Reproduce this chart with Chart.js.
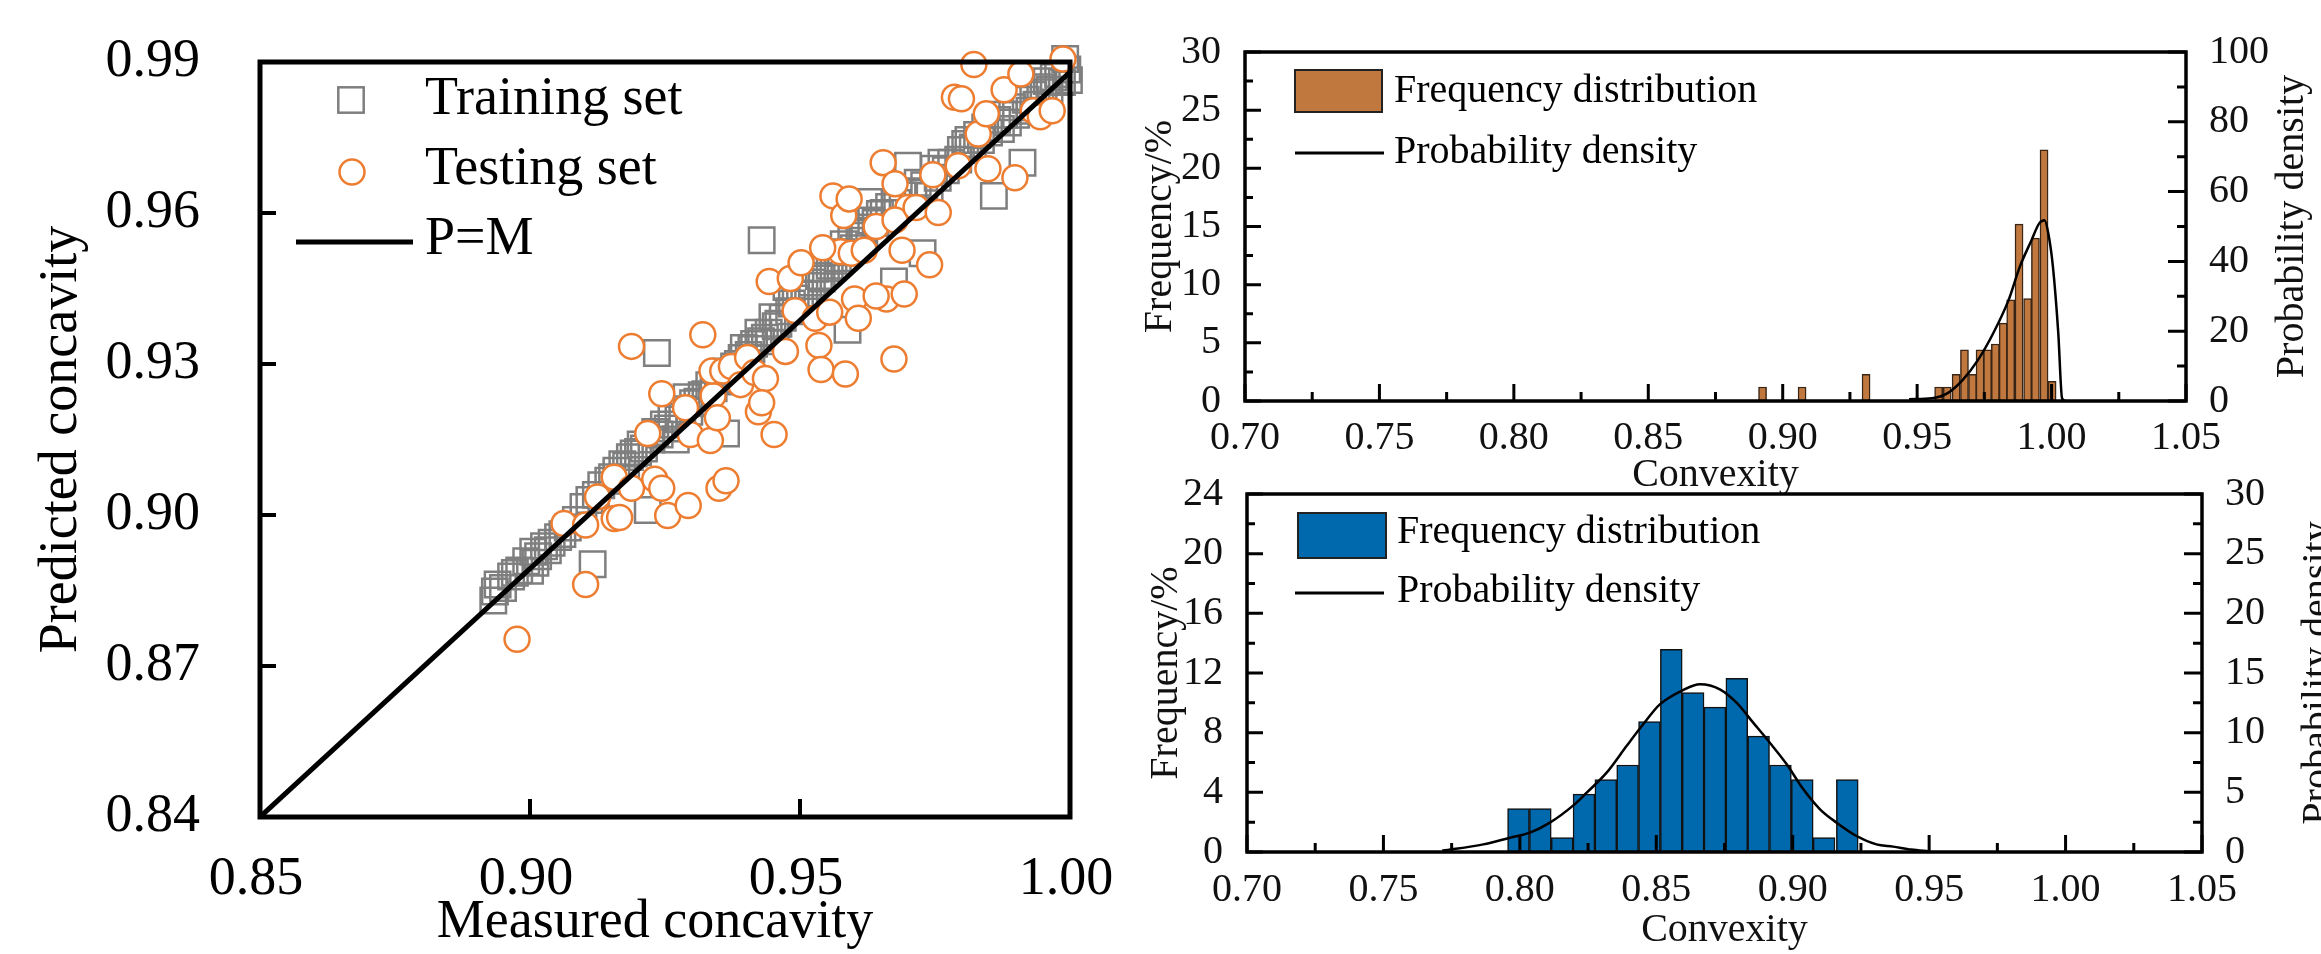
<!DOCTYPE html>
<html>
<head>
<meta charset="utf-8">
<script src="https://cdn.jsdelivr.net/npm/chart.js@4.4.0/dist/chart.umd.min.js"></script>
<style>
  html, body { margin: 0; padding: 0; background: #fff; }
  body { width: 2321px; height: 954px; position: relative; overflow: hidden; }
  canvas { position: absolute; }
  #scatter { left: 0; top: 0; }
  #histTop { left: 1120px; top: 0; }
  #histBottom { left: 1120px; top: 460px; }
</style>
</head>
<body>
<canvas id="scatter" width="1120" height="954"></canvas>
<canvas id="histTop" width="1201" height="500"></canvas>
<canvas id="histBottom" width="1201" height="494"></canvas>
<script>
const SERIF = "'Liberation Serif', 'Times New Roman', serif";

// ---- left panel: measured vs predicted concavity
const trainMeasured = [0.8932, 0.8935, 0.8940, 0.8965, 0.8980, 0.8993, 0.9000, 0.9006, 0.9015, 0.9026,
  0.9040, 0.9052, 0.9070, 0.9099, 0.9116, 0.9110, 0.9132, 0.9145, 0.9160, 0.9171,
  0.9185, 0.9200, 0.9211, 0.9218, 0.9225, 0.9235, 0.9240, 0.9255, 0.9270, 0.9275,
  0.9290, 0.9295, 0.9310, 0.9325, 0.9340, 0.9355, 0.9363, 0.9370, 0.9385, 0.9396,
  0.9405, 0.9415, 0.9423, 0.9429, 0.9435, 0.9449, 0.9460, 0.9475, 0.9485, 0.9500,
  0.9515, 0.9528, 0.9540, 0.9555, 0.9570, 0.9581, 0.9588, 0.9600, 0.9610, 0.9619,
  0.9628, 0.9640, 0.9655, 0.9674, 0.9680, 0.9700, 0.9710, 0.9727, 0.9730, 0.9740,
  0.9755, 0.9770, 0.9780, 0.9793, 0.9806, 0.9820, 0.9835, 0.9850, 0.9859, 0.9872,
  0.9885, 0.9900, 0.9912, 0.9925, 0.9938, 0.9951, 0.9962, 0.9978, 0.9985, 0.9991, 0.9998,
  0.8950, 0.8972, 0.9010, 0.9033, 0.9060, 0.9085, 0.9122, 0.9152, 0.9178, 0.9192,
  0.9205, 0.9232, 0.9248, 0.9262, 0.9282, 0.9302, 0.9318, 0.9332, 0.9348, 0.9362,
  0.9378, 0.9392, 0.9410, 0.9428, 0.9442, 0.9455, 0.9468, 0.9480, 0.9492, 0.9508,
  0.9522, 0.9535, 0.9548, 0.9562, 0.9576, 0.9595, 0.9615, 0.9632, 0.9648, 0.9665,
  0.9690, 0.9718, 0.9748, 0.9762, 0.9798, 0.9812, 0.9828, 0.9843, 0.9865, 0.9878,
  0.9893, 0.9918, 0.9932, 0.9945, 0.9957, 0.9970, 0.9995];
const trainPredicted = [0.8830, 0.8848, 0.8862, 0.8878, 0.8890, 0.8908, 0.8889, 0.8927, 0.8918, 0.8938,
  0.8945, 0.8956, 0.8975, 0.9016, 0.8902, 0.9030, 0.9059, 0.9068, 0.9088, 0.9101,
  0.9115, 0.9125, 0.9132, 0.9010, 0.9150, 0.9322, 0.9160, 0.9172, 0.9150, 0.9190,
  0.9234, 0.9205, 0.9225, 0.9240, 0.9252, 0.9265, 0.9162, 0.9280, 0.9300, 0.9332,
  0.9318, 0.9340, 0.9362, 0.9546, 0.9352, 0.9393, 0.9380, 0.9453, 0.9420, 0.9440,
  0.9455, 0.9489, 0.9470, 0.9495, 0.9510, 0.9538, 0.9368, 0.9530, 0.9555, 0.9561,
  0.9622, 0.9580, 0.9600, 0.9464, 0.9620, 0.9694, 0.9640, 0.9520, 0.9655, 0.9634,
  0.9670, 0.9685, 0.9700, 0.9706, 0.9737, 0.9730, 0.9745, 0.9760, 0.9634, 0.9767,
  0.9780, 0.9795, 0.9700, 0.9803, 0.9815, 0.9840, 0.9845, 0.9876, 0.9860, 0.9906, 0.9864,
  0.8855, 0.8885, 0.8905, 0.8930, 0.8962, 0.8990, 0.9040, 0.9075, 0.9098, 0.9122,
  0.9140, 0.9165, 0.9180, 0.9195, 0.9210, 0.9222, 0.9238, 0.9258, 0.9270, 0.9285,
  0.9295, 0.9312, 0.9330, 0.9345, 0.9362, 0.9375, 0.9392, 0.9405, 0.9430, 0.9438,
  0.9462, 0.9475, 0.9490, 0.9505, 0.9522, 0.9545, 0.9565, 0.9585, 0.9598, 0.9612,
  0.9635, 0.9660, 0.9688, 0.9700, 0.9725, 0.9745, 0.9755, 0.9770, 0.9785, 0.9795,
  0.9810, 0.9825, 0.9835, 0.9850, 0.9862, 0.9870, 0.9885];
const testMeasured = [0.8976, 0.9103, 0.9063, 0.9103, 0.9125, 0.9156, 0.9166, 0.9156, 0.9188, 0.9218,
  0.9231, 0.9244, 0.9255, 0.9293, 0.9244, 0.9288, 0.9297, 0.9188, 0.9320, 0.9334,
  0.9339, 0.9337, 0.9357, 0.9350, 0.9363, 0.9347, 0.9373, 0.9390, 0.9403, 0.9416,
  0.9423, 0.9436, 0.9429, 0.9452, 0.9443, 0.9473, 0.9482, 0.9491, 0.9502, 0.9528,
  0.9535, 0.9539, 0.9555, 0.9561, 0.9581, 0.9584, 0.9575, 0.9595, 0.9601, 0.9608,
  0.9591, 0.9641, 0.9654, 0.9660, 0.9674, 0.9676, 0.9689, 0.9700, 0.9693, 0.9676,
  0.9715, 0.9740, 0.9746, 0.9756, 0.9793, 0.9786, 0.9799, 0.9822, 0.9830, 0.9845,
  0.9848, 0.9878, 0.9898, 0.9909, 0.9932, 0.9945, 0.9967, 0.9987, 0.9542, 0.9619, 0.9641];
const testPredicted = [0.8753, 0.8862, 0.8983, 0.8980, 0.9036, 0.8993, 0.8995, 0.9075, 0.9053, 0.9162,
  0.9071, 0.9053, 0.8999, 0.9019, 0.9241, 0.9213, 0.9160, 0.9335, 0.9358, 0.9148,
  0.9237, 0.9286, 0.9286, 0.9053, 0.9068, 0.9193, 0.9295, 0.9259, 0.9313, 0.9283,
  0.9205, 0.9271, 0.9223, 0.9160, 0.9464, 0.9325, 0.9470, 0.9406, 0.9501, 0.9391,
  0.9337, 0.9289, 0.9403, 0.9634, 0.9595, 0.9280, 0.9523, 0.9520, 0.9429, 0.9391,
  0.9628, 0.9573, 0.9700, 0.9429, 0.9310, 0.9658, 0.9526, 0.9611, 0.9439, 0.9586,
  0.9611, 0.9497, 0.9676, 0.9601, 0.9694, 0.9830, 0.9827, 0.9895, 0.9757, 0.9797,
  0.9688, 0.9845, 0.9670, 0.9876, 0.9803, 0.9791, 0.9803, 0.9906, 0.9531, 0.9526, 0.9435];
const lineMeasured = [0.85, 1.00];
const linePredicted = [0.84, 0.988];
const scatterXTicks = [0.85, 0.90, 0.95, 1.00];
const scatterYTicks = [0.84, 0.87, 0.90, 0.93, 0.96, 0.99];

// ---- right panels: convexity histograms
const histXTicks = [0.70, 0.75, 0.80, 0.85, 0.90, 0.95, 1.00, 1.05];

const topBinWidth = 0.0030;
const topBinCenters = [0.8925, 0.9072, 0.9310, 0.9580, 0.9612, 0.9645, 0.9676, 0.9706, 0.9734,
  0.9762, 0.9791, 0.9820, 0.9848, 0.9879, 0.9911, 0.9940, 0.9972, 1.0002];
const topFrequency = [1.2, 1.2, 2.3, 1.2, 1.2, 2.3, 4.4, 2.3, 4.4, 4.4, 4.9, 6.7, 8.7, 15.2, 8.8, 14.0, 21.6, 1.7];
const topDensityX = [0.9470, 0.9555, 0.9612, 0.9669, 0.9726, 0.9783, 0.9840, 0.9882, 0.9925, 0.9954,
  0.9974, 0.9988, 1.0005, 1.0025, 1.0039, 1.0053];
const topDensityY = [0.5, 0.8, 2.2, 6.0, 11.7, 19.4, 28.9, 38.5, 46.0, 50.9, 51.8, 48.0, 38.5, 19.4, 0.8, 0];
const topFreqTicks = [0, 5, 10, 15, 20, 25, 30];
const topDensityTicks = [0, 20, 40, 60, 80, 100];

const bottomBinWidth = 0.0080;
const bottomBinCenters = [0.7995, 0.8075, 0.8155, 0.8235, 0.8315, 0.8395, 0.8475, 0.8555,
  0.8635, 0.8715, 0.8795, 0.8875, 0.8955, 0.9035, 0.9115, 0.9200];
const bottomFrequency = [2.91, 2.91, 0.97, 3.88, 4.85, 5.83, 8.74, 13.59, 10.68, 9.71, 11.65, 7.77, 5.83, 4.85, 0.97, 4.85];
const bottomDensityX = [0.7715, 0.7866, 0.7964, 0.8037, 0.8110, 0.8196, 0.8245, 0.8318, 0.8391, 0.8452,
  0.8513, 0.8599, 0.8660, 0.8733, 0.8794, 0.8855, 0.8916, 0.8978, 0.9039, 0.9100,
  0.9161, 0.9234, 0.9307, 0.9368, 0.9435, 0.9500];
const bottomDensityY = [0.1, 0.64, 1.2, 1.62, 2.46, 3.91, 4.97, 6.65, 8.88, 10.7,
  12.37, 13.58, 14.05, 13.63, 12.51, 10.84, 9.16, 7.35, 5.25, 3.58,
  2.46, 1.34, 0.64, 0.45, 0.2, 0.05];
const bottomFreqTicks = [0, 4, 8, 12, 16, 20, 24];
const bottomDensityTicks = [0, 5, 10, 15, 20, 25, 30];

const ORANGE = '#ED7D31';
const GREY = '#7f7f7f';
const BROWN = '#C0783F';
const BLUE = '#0068AD';
const HIST_FONT = 40;

const pairs = (xs, ys) => xs.map((x, i) => ({ x: x, y: ys[i] }));
const fixedTicks = list => scale => { scale.ticks = list.map(v => ({ value: v })); };

function drawFrame(chart, lw) {
  const { ctx, chartArea: a } = chart;
  ctx.save();
  ctx.strokeStyle = '#000';
  ctx.lineWidth = lw;
  ctx.strokeRect(a.left, a.top, a.right - a.left, a.bottom - a.top);
  ctx.restore();
}

// ticks point into the plot, like the original figure
function drawInwardTicks(chart, scaleId, side, majorLen, minorLen, lw) {
  const s = chart.scales[scaleId];
  const a = chart.chartArea;
  const ctx = chart.ctx;
  const vals = s.ticks.map(t => t.value);
  ctx.save();
  ctx.strokeStyle = '#000';
  ctx.lineWidth = lw;
  ctx.beginPath();
  const mark = (v, len) => {
    const p = s.getPixelForValue(v);
    if (side === 'left') { ctx.moveTo(a.left, p); ctx.lineTo(a.left + len, p); }
    else if (side === 'right') { ctx.moveTo(a.right, p); ctx.lineTo(a.right - len, p); }
    else { ctx.moveTo(p, a.bottom); ctx.lineTo(p, a.bottom - len); }
  };
  vals.forEach((v, i) => {
    mark(v, majorLen);
    if (minorLen && i < vals.length - 1) mark((v + vals[i + 1]) / 2, minorLen);
  });
  ctx.stroke();
  ctx.restore();
}

function text(ctx, str, x, y, size, align) {
  ctx.save();
  ctx.fillStyle = '#000';
  ctx.font = size + 'px ' + SERIF;
  ctx.textAlign = align || 'left';
  ctx.textBaseline = 'middle';
  ctx.fillText(str, x, y);
  ctx.restore();
}

function rotatedTitle(ctx, str, x, y, size) {
  ctx.save();
  ctx.translate(x, y);
  ctx.rotate(-Math.PI / 2);
  ctx.fillStyle = '#111';
  ctx.font = size + 'px ' + SERIF;
  ctx.textAlign = 'center';
  ctx.textBaseline = 'middle';
  ctx.fillText(str, 0, 0);
  ctx.restore();
}

// ================= scatter =================
new Chart(document.getElementById('scatter'), {
  type: 'scatter',
  data: {
    datasets: [
      { label: 'P=M', data: pairs(lineMeasured, linePredicted), showLine: true,
        borderColor: '#000', borderWidth: 5, pointRadius: 0, order: 0 },
      { label: 'Testing set', data: pairs(testMeasured, testPredicted), pointStyle: 'circle',
        pointRadius: 12.5, pointBorderWidth: 2.5, pointBorderColor: ORANGE,
        pointBackgroundColor: '#fff', clip: false, order: 1 },
      { label: 'Training set', data: pairs(trainMeasured, trainPredicted), pointStyle: 'rect',
        pointRadius: 18, pointBorderWidth: 2.5, pointBorderColor: GREY,
        pointBackgroundColor: 'rgba(0,0,0,0)', clip: false, order: 2 }
    ]
  },
  options: {
    responsive: false,
    animation: false,
    layout: { padding: { top: 62, right: 50, left: 0, bottom: 0 } },
    plugins: { legend: { display: false }, tooltip: { enabled: false } },
    scales: {
      x: {
        type: 'linear', min: 0.85, max: 1.0,
        grid: { display: false, drawTicks: false }, border: { display: false },
        afterBuildTicks: fixedTicks(scatterXTicks),
        afterFit: s => { s.height = 137; s.paddingLeft = 0; s.paddingRight = 0; },
        ticks: { display: false },
        title: { display: false }
      },
      y: {
        type: 'linear', min: 0.84, max: 0.99,
        grid: { display: false, drawTicks: false }, border: { display: false },
        afterBuildTicks: fixedTicks(scatterYTicks),
        afterFit: s => { s.width = 260; s.paddingTop = 0; s.paddingBottom = 0; },
        ticks: { padding: 60, color: '#000', font: { family: SERIF, size: 54 },
          autoSkip: false, callback: v => v.toFixed(2) },
        title: { display: true, text: 'Predicted concavity', color: '#000',
          font: { family: SERIF, size: 54, lineHeight: 1 }, padding: { top: 35, bottom: 0 } }
      }
    }
  },
  plugins: [{
    id: 'scatterDecor',
    afterDatasetsDraw(chart) {
      drawFrame(chart, 5);
      drawInwardTicks(chart, 'y', 'left', 16, 0, 4);
      drawInwardTicks(chart, 'x', 'bottom', 18, 0, 4);
    },
    afterDraw(chart) {
      const { ctx, chartArea: a } = chart;
      // x tick labels and axis title, placed from the x scale
      const xs = chart.scales.x;
      xs.ticks.forEach(t => text(ctx, t.value.toFixed(2), xs.getPixelForValue(t.value) - 4, a.bottom + 63, 54, 'center'));
      text(ctx, 'Measured concavity', a.left + 395, a.bottom + 106, 54, 'center');
      // legend
      ctx.save();
      ctx.lineWidth = 2.5;
      ctx.strokeStyle = GREY;
      ctx.strokeRect(a.left + 91 - 12.7, a.top + 38 - 12.7, 25.4, 25.4);
      ctx.beginPath();
      ctx.arc(a.left + 92, a.top + 110, 12.5, 0, Math.PI * 2);
      ctx.fillStyle = '#fff';
      ctx.fill();
      ctx.strokeStyle = ORANGE;
      ctx.stroke();
      ctx.beginPath();
      ctx.moveTo(a.left + 36, a.top + 180);
      ctx.lineTo(a.left + 153, a.top + 180);
      ctx.strokeStyle = '#000';
      ctx.lineWidth = 5;
      ctx.stroke();
      ctx.restore();
      text(ctx, 'Training set', a.left + 165, a.top + 38, 54);
      text(ctx, 'Testing set', a.left + 165, a.top + 108, 54);
      text(ctx, 'P=M', a.left + 165, a.top + 178, 54);
    }
  }]
});

// ================= histograms =================
function histogram(canvasId, cfg) {
  const chart = new Chart(document.getElementById(canvasId), {
    type: 'bar',
    data: {
      datasets: [
        { type: 'bar', label: 'Frequency distribution', data: pairs(cfg.centers, cfg.freq),
          yAxisID: 'y', backgroundColor: cfg.color, borderColor: cfg.edge, borderWidth: 1.5,
          borderSkipped: false, barThickness: 8, grouped: false, order: 1 },
        { type: 'line', label: 'Probability density', data: pairs(cfg.densX, cfg.densY),
          yAxisID: 'y2', borderColor: '#000', borderWidth: 2.5, pointRadius: 0,
          tension: 0.35, cubicInterpolationMode: 'monotone', order: 0 }
      ]
    },
    options: {
      responsive: false,
      animation: false,
      layout: { padding: { top: cfg.padTop, right: 0, left: 0, bottom: 0 } },
      plugins: { legend: { display: false }, tooltip: { enabled: false } },
      scales: {
        x: {
          type: 'linear', min: 0.70, max: 1.05, offset: false,
          grid: { display: false, drawTicks: false }, border: { display: false },
          afterBuildTicks: fixedTicks(histXTicks),
          afterFit: s => { s.height = cfg.xHeight; s.paddingLeft = 0; s.paddingRight = 0; },
          ticks: { padding: cfg.xPad, color: '#111', font: { family: SERIF, size: HIST_FONT },
            maxRotation: 0, autoSkip: false, callback: v => v.toFixed(2) },
          title: { display: true, text: 'Convexity', color: '#111',
            font: { family: SERIF, size: HIST_FONT, lineHeight: 1 }, padding: { top: 0, bottom: cfg.xTitlePad } }
        },
        y: {
          type: 'linear', position: 'left', min: 0, max: cfg.freqTicks[cfg.freqTicks.length - 1],
          grid: { display: false, drawTicks: false }, border: { display: false },
          afterBuildTicks: fixedTicks(cfg.freqTicks),
          afterFit: s => { s.width = cfg.leftW; s.paddingTop = 0; s.paddingBottom = 0; },
          ticks: { padding: 24, color: '#111', font: { family: SERIF, size: HIST_FONT }, autoSkip: false },
          title: { display: true, text: 'Frequency/%', color: '#111',
            font: { family: SERIF, size: HIST_FONT, lineHeight: 1 }, padding: { top: cfg.yTitlePad, bottom: 0 } }
        },
        y2: {
          type: 'linear', position: 'right', min: 0, max: cfg.densTicks[cfg.densTicks.length - 1],
          grid: { display: false, drawTicks: false }, border: { display: false },
          afterBuildTicks: fixedTicks(cfg.densTicks),
          afterFit: s => { s.width = cfg.rightW; s.paddingTop = 0; s.paddingBottom = 0; },
          ticks: { padding: 23, color: '#111', font: { family: SERIF, size: HIST_FONT }, autoSkip: false }
        }
      }
    },
    plugins: [{
      id: 'histDecor',
      afterDatasetsDraw(chart) {
        drawFrame(chart, 3.5);
        drawInwardTicks(chart, 'y', 'left', 16, 8, 3);
        drawInwardTicks(chart, 'y2', 'right', 18, 9, 3);
        drawInwardTicks(chart, 'x', 'bottom', 17, 9, 3);
      },
      afterDraw(chart) {
        const { ctx, chartArea: a } = chart;
        rotatedTitle(ctx, 'Probability density', a.right + cfg.rightTitleX, (a.top + a.bottom) / 2, HIST_FONT);
        const L = cfg.legend;
        ctx.save();
        ctx.fillStyle = cfg.color;
        ctx.fillRect(a.left + L.boxX, a.top + L.boxY, L.boxW, L.boxH);
        ctx.strokeStyle = '#222';
        ctx.lineWidth = 2;
        ctx.strokeRect(a.left + L.boxX, a.top + L.boxY, L.boxW, L.boxH);
        ctx.beginPath();
        ctx.moveTo(a.left + L.lineX0, a.top + L.lineY);
        ctx.lineTo(a.left + L.lineX1, a.top + L.lineY);
        ctx.strokeStyle = '#000';
        ctx.lineWidth = 3;
        ctx.stroke();
        ctx.restore();
        text(ctx, 'Frequency distribution', a.left + L.textX, a.top + L.text1Y, HIST_FONT);
        text(ctx, 'Probability density', a.left + L.textX, a.top + L.text2Y, HIST_FONT);
      }
    }]
  });
  // bar width = one bin on the x scale
  const x = chart.scales.x;
  chart.data.datasets[0].barThickness = Math.abs(x.getPixelForValue(x.min + cfg.binWidth) - x.getPixelForValue(x.min));
  chart.update('none');
  return chart;
}

histogram('histTop', {
  centers: topBinCenters, freq: topFrequency, densX: topDensityX, densY: topDensityY,
  freqTicks: topFreqTicks, densTicks: topDensityTicks, binWidth: topBinWidth,
  color: BROWN, edge: '#3a2616',
  padTop: 52, xHeight: 99, leftW: 125, rightW: 135, xPad: 13, xTitlePad: 5, yTitlePad: 20,
  rightTitleX: 106,
  legend: { boxX: 50, boxY: 18, boxW: 87, boxH: 42, lineX0: 50, lineX1: 139, lineY: 101,
    textX: 149, text1Y: 39, text2Y: 100 }
});

histogram('histBottom', {
  centers: bottomBinCenters, freq: bottomFrequency, densX: bottomDensityX, densY: bottomDensityY,
  freqTicks: bottomFreqTicks, densTicks: bottomDensityTicks, binWidth: bottomBinWidth,
  color: BLUE, edge: '#111',
  padTop: 34, xHeight: 102, leftW: 127, rightW: 119, xPad: 14, xTitlePad: 4, yTitlePad: 26,
  rightTitleX: 116,
  legend: { boxX: 51, boxY: 19, boxW: 88, boxH: 45, lineX0: 48, lineX1: 137, lineY: 99,
    textX: 150, text1Y: 38, text2Y: 97 }
});
</script>
</body>
</html>
